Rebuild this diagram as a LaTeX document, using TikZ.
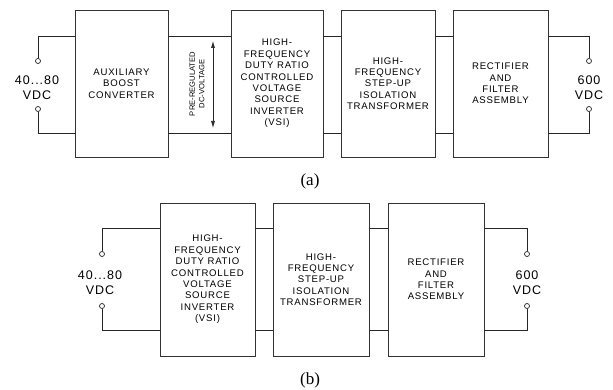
\documentclass[tikz,border=0pt]{standalone}
\usepackage{fontspec}
\setmainfont{Liberation Serif}
\newfontfamily\blockfont[LetterSpace=8]{Liberation Sans}
\newfontfamily\narrowfont{Liberation Sans}
\usetikzlibrary{arrows.meta}
\tikzset{
  blocco/.style={draw=black!80, line width=0.8pt, align=center, inner sep=0pt,
    font=\blockfont\fontsize{9.6}{11.4}\selectfont},
  filo/.style={draw=black!85, line width=0.8pt},
  morsetto/.style={circle, draw=black!85, line width=0.7pt, fill=white, inner sep=0pt, minimum size=5pt},
  tensione/.style={align=center, font=\blockfont\fontsize{12.5}{15}\selectfont},
}
\begin{document}
\begin{tikzpicture}[x=1pt,y=-1pt]
      \useasboundingbox (0,0) rectangle (613,390);
      %schema (a)
      \node[blocco, minimum width=93pt, minimum height=147pt] (boost) at (121.5,83.5) {AUXILIARY\\BOOST\\CONVERTER};
      \node[blocco, minimum width=92pt, minimum height=147pt] (vsiA) at (277,83.5) {HIGH-\\FREQUENCY\\DUTY RATIO\\CONTROLLED\\VOLTAGE\\SOURCE\\INVERTER\\(VSI)};
      \node[blocco, minimum width=94pt, minimum height=147pt] (trafoA) at (388,83.5) {HIGH-\\FREQUENCY\\STEP-UP\\ISOLATION\\TRANSFORMER};
      \node[blocco, minimum width=95pt, minimum height=147pt] (raddA) at (500.5,83.5) {RECTIFIER\\AND\\FILTER\\ASSEMBLY};
      %livelli dei fili
      \coordinate (suA) at (0,36);
      \coordinate (giuA) at (0,133);
      %ingresso
      \node[morsetto] (inSuA) at (38,61) {};
      \node[morsetto] (inGiuA) at (38,109) {};
      \node[tensione] (vinA) at (37,88) {40...80\\VDC};
      \draw[filo] (inSuA) |- (boost.west |- suA);
      \draw[filo] (inGiuA) |- (boost.west |- giuA);
      %collegamenti
      \draw[filo] (boost.east |- suA) -- (vsiA.west |- suA);
      \draw[filo] (boost.east |- giuA) -- (vsiA.west |- giuA);
      \draw[filo] (vsiA.east |- suA) -- (trafoA.west |- suA);
      \draw[filo] (vsiA.east |- giuA) -- (trafoA.west |- giuA);
      \draw[filo] (trafoA.east |- suA) -- (raddA.west |- suA);
      \draw[filo] (trafoA.east |- giuA) -- (raddA.west |- giuA);
      %tensione intermedia
      \coordinate (frecciaSu) at (213,41);
      \coordinate (frecciaGiu) at (213,128);
      \draw[filo, line width=0.7pt, {Latex[length=7pt,width=4pt]}-{Latex[length=7pt,width=4pt]}] (frecciaSu) -- (frecciaGiu);
      \node[rotate=90, align=center, font=\narrowfont\fontsize{7.6}{9.6}\selectfont] (dcbus) at (197,84) {PRE-REGULATED\\DC-VOLTAGE};
      %uscita
      \node[morsetto] (outSuA) at (589,61) {};
      \node[morsetto] (outGiuA) at (589,109) {};
      \node[tensione] (voutA) at (589,88) {600\\VDC};
      \draw[filo] (outSuA) |- (raddA.east |- suA);
      \draw[filo] (outGiuA) |- (raddA.east |- giuA);
      \node[font=\fontsize{17}{20}\selectfont] (etA) at (310,181) {(a)};
      %schema (b)
      \node[blocco, minimum width=95pt, minimum height=153pt] (vsiB) at (207.5,279.5) {HIGH-\\FREQUENCY\\DUTY RATIO\\CONTROLLED\\VOLTAGE\\SOURCE\\INVERTER\\(VSI)};
      \node[blocco, minimum width=96pt, minimum height=153pt] (trafoB) at (321,279.5) {HIGH-\\FREQUENCY\\STEP-UP\\ISOLATION\\TRANSFORMER};
      \node[blocco, minimum width=96pt, minimum height=153pt] (raddB) at (436,279.5) {RECTIFIER\\AND\\FILTER\\ASSEMBLY};
      \coordinate (suB) at (0,228);
      \coordinate (giuB) at (0,330);
      \node[morsetto] (inSuB) at (102,254) {};
      \node[morsetto] (inGiuB) at (102,306) {};
      \node[tensione] (vinB) at (100,283) {40...80\\VDC};
      \draw[filo] (inSuB) |- (vsiB.west |- suB);
      \draw[filo] (inGiuB) |- (vsiB.west |- giuB);
      \draw[filo] (vsiB.east |- suB) -- (trafoB.west |- suB);
      \draw[filo] (vsiB.east |- giuB) -- (trafoB.west |- giuB);
      \draw[filo] (trafoB.east |- suB) -- (raddB.west |- suB);
      \draw[filo] (trafoB.east |- giuB) -- (raddB.west |- giuB);
      \node[morsetto] (outSuB) at (527,254) {};
      \node[morsetto] (outGiuB) at (527,306) {};
      \node[tensione] (voutB) at (527,283) {600\\VDC};
      \draw[filo] (outSuB) |- (raddB.east |- suB);
      \draw[filo] (outGiuB) |- (raddB.east |- giuB);
      \node[font=\fontsize{17}{20}\selectfont] (etB) at (310,380) {(b)};
\end{tikzpicture}
\end{document}
